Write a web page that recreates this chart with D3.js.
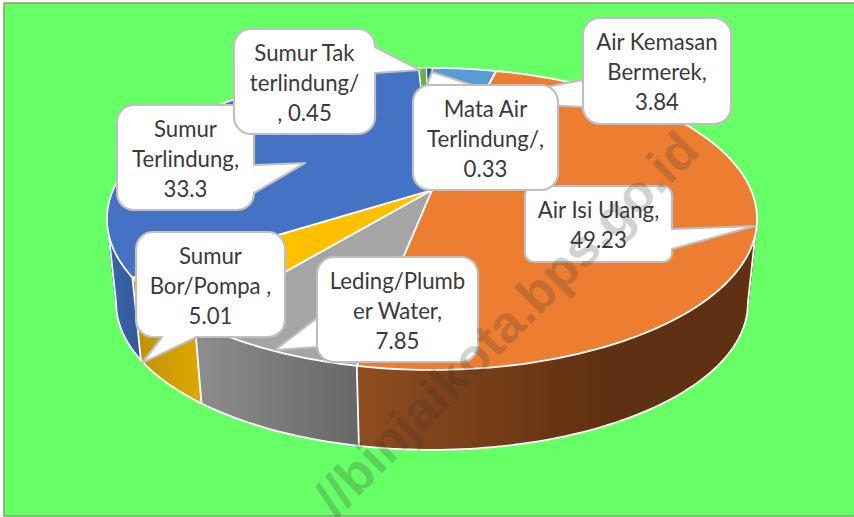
<!DOCTYPE html>
<html lang="en">
<head>
    <meta charset="UTF-8">
    <title>Sumber air minum</title>
    <style>
        html, body { margin: 0; padding: 0; background: #fff; overflow: hidden; }
        svg { display: block; }
    </style>
</head>
<body>
    <script src="https://cdn.jsdelivr.net/npm/d3@7"></script>
    <script>
        // data, clockwise from the top
        var categories = ['Air Kemasan Bermerek', 'Air Isi Ulang', 'Leding/Plumber Water', 'Sumur Bor/Pompa', 'Sumur Terlindung', 'Sumur Tak terlindung/', 'Mata Air Terlindung/'];
        var values = [3.84, 49.23, 7.85, 5.01, 33.3, 0.45, 0.33];
        var colors = ['#5b9bd5', '#ed7d31', '#a5a5a5', '#ffc000', '#4472c4', '#70ad47', '#255e91'];
        // wall shading, left and right end of each slice's gradient
        var wallLeft = ['#3f6f9c', '#8f4d1f', '#8e8e8e', '#bd9006', '#3a66ad', '#4f7a32', '#1a4268'];
        var wallRight = ['#3f6f9c', '#5f3011', '#676767', '#dfa800', '#34589a', '#4f7a32', '#1a4268'];
        // wrapped label text, as the callouts break it
        var labelLines = [
            ['Air Kemasan', 'Bermerek,', '3.84'],
            ['Air Isi Ulang,', '49.23'],
            ['Leding/Plumb', 'er Water,', '7.85'],
            ['Sumur', 'Bor/Pompa ,', '5.01'],
            ['Sumur', 'Terlindung,', '33.3'],
            ['Sumur Tak', 'terlindung/', ', 0.45'],
            ['Mata Air', 'Terlindung/,', '0.33']
        ];

        var width = 854, height = 517;
        var svg = d3.select('body').append('svg')
            .attr('width', width)
            .attr('height', height);
        var defs = svg.append('defs');

        // page background and thin frame
        svg.append('rect')
            .attr('x', 4).attr('y', 3)
            .attr('width', 860).attr('height', 513)
            .attr('fill', '#66ff66')
            .attr('stroke', '#7aa866')
            .attr('stroke-width', 1.5);

        // the disc seen in perspective: top face and a smaller bottom face
        var tilt = 0.192;
        var topFace = {cx: 432, cy: 190, a: 319, b: 145.4};
        var bottomFace = {cx: 432, cy: 275, a: 310, b: 141.3};
        // the visible part of the wall runs between the widest points of the disc
        var frontStart = Math.acos(-tilt), frontEnd = 2 * Math.PI - frontStart;

        function project(face, angle) {
            var x = Math.sin(angle), y = Math.cos(angle), w = 1 + tilt * y;
            return [face.cx + face.a * x / w, face.cy - face.b * y / w];
        }
        function rim(face, start, end) {
            var n = Math.max(2, Math.ceil((end - start) / 0.02));
            return d3.range(n + 1).map(function(i) {
                return project(face, start + (end - start) * i / n);
            });
        }

        var pie = d3.pie().sort(null);
        var piedata = pie(values);
        var colorScale = d3.scaleOrdinal().domain(d3.range(values.length)).range(colors);
        var line = d3.line();

        // only slices that reach the front have a wall
        var frontSlices = piedata.map(function(d, i) {
            return {index: i, start: Math.max(d.startAngle, frontStart), end: Math.min(d.endAngle, frontEnd)};
        }).filter(function(d) { return d.end > d.start; });

        // horizontal gradient for each wall
        frontSlices.forEach(function(d) {
            var i = d.index;
            var pts = rim(bottomFace, d.start, d.end).concat(rim(topFace, d.start, d.end));
            var ext = d3.extent(pts, function(p) { return p[0]; });
            // the big slice reaches its darkest tone well before its right end
            var x2 = i === 1 ? ext[0] + 245 : ext[1];
            var grad = defs.append('linearGradient')
                .attr('id', 'wall' + i)
                .attr('gradientUnits', 'userSpaceOnUse')
                .attr('x1', ext[0]).attr('x2', x2)
                .attr('y1', 0).attr('y2', 0);
            grad.append('stop').attr('offset', 0).attr('stop-color', wallLeft[i]);
            grad.append('stop').attr('offset', 1).attr('stop-color', wallRight[i]);
        });

        // walls as narrow strips, so the tangent sides of the disc get filled too
        svg.append('g').selectAll('path')
            .data(frontSlices)
            .enter()
            .append('path')
            .attr('d', function(d) {
                var t = rim(topFace, d.start, d.end), b = rim(bottomFace, d.start, d.end);
                return d3.range(t.length - 1).map(function(j) {
                    return line([t[j], t[j + 1], b[j + 1], b[j]]) + 'Z';
                }).join('');
            })
            .attr('fill', function(d) { return 'url(#wall' + d.index + ')'; })
            .attr('stroke', function(d) { return 'url(#wall' + d.index + ')'; })
            .attr('stroke-width', 0.6);

        // white seams between walls and round the silhouette
        var seams = svg.append('g')
            .attr('fill', 'none')
            .attr('stroke', '#fff')
            .attr('stroke-width', 1.8);
        seams.selectAll('path')
            .data(frontSlices.slice(1))
            .enter()
            .append('path')
            .attr('d', function(d) {
                return line([project(topFace, d.start), project(bottomFace, d.start)]);
            });
        seams.append('path')
            .attr('d', line([project(topFace, frontStart)]
                .concat(rim(bottomFace, frontStart, frontEnd))
                .concat([project(topFace, frontEnd)])));

        // top face
        svg.append('g').selectAll('path')
            .data(piedata)
            .enter()
            .append('path')
            .attr('d', function(d) {
                return line([[topFace.cx, topFace.cy]].concat(rim(topFace, d.startAngle, d.endAngle))) + 'Z';
            })
            .attr('fill', function(d, i) { return colorScale(i); })
            .attr('stroke', '#fff')
            .attr('stroke-width', function(d) { return d.value < 1 ? 1 : 1.8; })
            .attr('stroke-linejoin', 'round');

        // callouts: box, corner radius and the tail's three corners
        var calloutBoxes = [
            {x: 583, y: 18, w: 148, h: 106, r: 17, tail: [[583, 80], [470, 101], [583, 107]]},
            {x: 525, y: 186, w: 147, h: 76, r: 9, tail: [[672, 229], [755, 226], [672, 249]]},
            {x: 317, y: 257, w: 161, h: 105, r: 17, tail: [[317, 318], [275, 350], [317, 347]]},
            {x: 136, y: 232, w: 149, h: 105, r: 17, tail: [[197, 337], [142, 363], [162, 337]]},
            {x: 117, y: 105, w: 137, h: 105, r: 17, tail: [[254, 165], [305, 163], [254, 193]]},
            {x: 234, y: 29, w: 141, h: 105, r: 17, tail: [[375, 47], [420, 70], [375, 73]]},
            {x: 413, y: 85, w: 145, h: 105, r: 17, tail: [[472, 85], [432, 72], [427, 85]]}
        ];

        function calloutPath(b) {
            var r = b.r, p = d3.path(), x0 = b.x, y0 = b.y, x1 = b.x + b.w, y1 = b.y + b.h;
            var t = b.tail;
            function addTail(cond) { if (cond) { p.lineTo(t[0][0], t[0][1]); p.lineTo(t[1][0], t[1][1]); p.lineTo(t[2][0], t[2][1]); } }
            p.moveTo(x0 + r, y0);
            addTail(t[0][1] === y0);
            p.lineTo(x1 - r, y0);
            p.arcTo(x1, y0, x1, y0 + r, r);
            addTail(t[0][0] === x1);
            p.lineTo(x1, y1 - r);
            p.arcTo(x1, y1, x1 - r, y1, r);
            addTail(t[0][1] === y1);
            p.lineTo(x0 + r, y1);
            p.arcTo(x0, y1, x0, y1 - r, r);
            addTail(t[0][0] === x0);
            p.lineTo(x0, y0 + r);
            p.arcTo(x0, y0, x0 + r, y0, r);
            p.closePath();
            return p.toString();
        }

        var callouts = svg.append('g').selectAll('g')
            .data(calloutBoxes)
            .enter()
            .append('g');
        callouts.append('path')
            .attr('d', calloutPath)
            .attr('fill', '#fff')
            .attr('stroke', '#bfbfbf')
            .attr('stroke-width', 2.2)
            .attr('stroke-linejoin', 'round');
        callouts.each(function(b, i) {
            var lines = labelLines[i];
            var mid = b.y + b.h / 2;
            d3.select(this).selectAll('text')
                .data(lines)
                .enter()
                .append('text')
                .attr('x', b.x + b.w / 2)
                .attr('y', function(d, j) { return mid + (j - (lines.length - 1) / 2) * 30 + 9; })
                .attr('text-anchor', 'middle')
                .attr('font-family', 'Lato, sans-serif')
                .attr('font-size', 22.2)
                .attr('fill', '#3a3a3a')
                .text(function(d) { return d; });
        });

        // site watermark across the picture
        svg.append('text')
            .attr('transform', 'translate(702,153) rotate(-45)')
            .attr('text-anchor', 'end')
            .attr('font-family', 'Liberation Sans, sans-serif')
            .attr('font-weight', 'bold')
            .attr('font-size', 52)
            .attr('fill', 'rgba(50,50,50,0.22)')
            .text('//binjaikota.bps.go.id');
    </script>
</body>
</html>
